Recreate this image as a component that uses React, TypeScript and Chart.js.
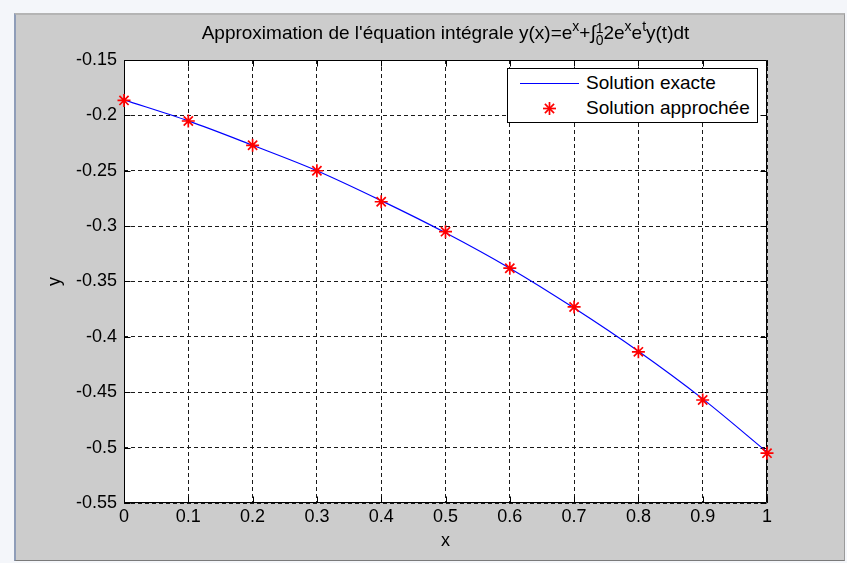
import React, { useEffect, useRef } from "react";
import { Chart, registerables } from "chart.js";

Chart.register(...registerables);

// ---- data ----
const xValues = [0, 0.1, 0.2, 0.3, 0.4, 0.5, 0.6, 0.7, 0.8, 0.9, 1];
const exactValues = [-0.186, -0.205, -0.227, -0.25, -0.277, -0.306, -0.338, -0.374, -0.413, -0.456, -0.504];
const approxValues = [-0.1865, -0.2051, -0.227, -0.25, -0.278, -0.305, -0.338, -0.373, -0.4135, -0.457, -0.505];

const xTickValues = [0, 0.1, 0.2, 0.3, 0.4, 0.5, 0.6, 0.7, 0.8, 0.9, 1];
const xTickLabels = ["0", "0.1", "0.2", "0.3", "0.4", "0.5", "0.6", "0.7", "0.8", "0.9", "1"];
const yTickValues = [-0.55, -0.5, -0.45, -0.4, -0.35, -0.3, -0.25, -0.2, -0.15];
const yTickLabels = ["-0.55", "-0.5", "-0.45", "-0.4", "-0.35", "-0.3", "-0.25", "-0.2", "-0.15"];

const seriesNames = ["Solution exacte", "Solution approchée"];
const axisTitles = { x: "x", y: "y" };

const FONT = "'Liberation Sans', Arial, Helvetica, sans-serif";

const matlabBox = {
  id: "matlabBox",
  beforeDraw(chart: any) {
    const { ctx, chartArea: a } = chart;
    ctx.save();
    ctx.fillStyle = "#ffffff";
    ctx.fillRect(a.left, a.top, a.right - a.left, a.bottom - a.top);
    ctx.restore();
  },
  beforeDatasetsDraw(chart: any) {
    const { ctx, chartArea: a, scales } = chart;
    const L = Math.round(a.left) + 0.5;
    const R = Math.round(a.right) - 0.5;
    const T = Math.round(a.top) + 0.5;
    const B = Math.round(a.bottom) - 0.5;
    const len = 6;
    ctx.save();
    ctx.strokeStyle = "#000000";
    ctx.lineWidth = 1;
    ctx.setLineDash([]);
    ctx.beginPath();
    ctx.rect(L, T, R - L, B - T);
    for (const t of scales.x.ticks) {
      const px = Math.round(scales.x.getPixelForValue(t.value)) + 0.5;
      ctx.moveTo(px, B);
      ctx.lineTo(px, B - len);
      ctx.moveTo(px, T);
      ctx.lineTo(px, T + len);
    }
    for (const t of scales.y.ticks) {
      const py = Math.round(scales.y.getPixelForValue(t.value)) + 0.5;
      ctx.moveTo(L, py);
      ctx.lineTo(L + len, py);
      ctx.moveTo(R, py);
      ctx.lineTo(R - len, py);
    }
    ctx.stroke();
    ctx.restore();
  },
};

export default function App() {
  const ref = useRef<HTMLCanvasElement>(null);

  useEffect(() => {
    if (!ref.current) return;
    const chart = new Chart(ref.current, {
      type: "line",
      data: {
        datasets: [
          {
            label: seriesNames[0],
            data: xValues.map((x, i) => ({ x, y: exactValues[i] })),
            borderColor: "#0000ff",
            backgroundColor: "#0000ff",
            borderWidth: 1.2,
            pointRadius: 0,
            cubicInterpolationMode: "monotone",
            fill: false,
            order: 2,
          },
          {
            label: seriesNames[1],
            data: xValues.map((x, i) => ({ x, y: approxValues[i] })),
            showLine: false,
            pointStyle: "star",
            pointRadius: 6.5,
            pointBorderWidth: 1.7,
            borderColor: "#ff0000",
            backgroundColor: "#ff0000",
            clip: false,
            order: 1,
          },
        ],
      },
      options: {
        animation: false,
        responsive: false,
        maintainAspectRatio: false,
        layout: { padding: { left: 0, top: 60, right: 80, bottom: 0 } },
        plugins: {
          legend: { display: false },
          tooltip: { enabled: false },
          title: { display: false },
        },
        scales: {
          x: {
            type: "linear",
            min: 0,
            max: 1,
            afterBuildTicks: (s: any) => {
              s.ticks = xTickValues.map((v) => ({ value: v }));
            },
            afterFit: (s: any) => {
              s.height = 60;
            },
            ticks: {
              autoSkip: false,
              maxRotation: 0,
              padding: 3,
              color: "#000",
              font: { family: FONT, size: 18 },
              callback: (_v: any, i: number) => xTickLabels[i],
            },
            grid: { color: "#1a1a1a", lineWidth: 1, drawTicks: false },
            border: { display: false, dash: [4, 3] },
            title: {
              display: true,
              text: axisTitles.x,
              color: "#000",
              font: { family: FONT, size: 18 },
              padding: { top: 0, bottom: 11 },
            },
          },
          y: {
            type: "linear",
            min: -0.55,
            max: -0.15,
            afterBuildTicks: (s: any) => {
              s.ticks = yTickValues.map((v) => ({ value: v }));
            },
            afterFit: (s: any) => {
              s.width = 124;
            },
            ticks: {
              autoSkip: false,
              padding: 7,
              color: "#000",
              font: { family: FONT, size: 18 },
              callback: (_v: any, i: number) => yTickLabels[i],
            },
            grid: { color: "#1a1a1a", lineWidth: 1, drawTicks: false },
            border: { display: false, dash: [4, 3] },
            title: {
              display: true,
              text: axisTitles.y,
              color: "#000",
              font: { family: FONT, size: 18 },
              padding: { top: 44, bottom: 0 },
            },
          },
        },
      },
      plugins: [matlabBox],
    } as any);
    return () => chart.destroy();
  }, []);

  const sup: React.CSSProperties = { fontSize: 14, position: "relative", top: -8 };

  return (
    <div
      style={{
        position: "absolute",
        left: 0,
        top: 0,
        width: 847,
        height: 563,
        background: "#f4f6fa",
        overflow: "hidden",
        fontFamily: FONT,
      }}
    >
      <div
        style={{
          position: "absolute",
          left: 14,
          top: 13,
          width: 831,
          height: 548,
          background: "#cccccc",
          borderLeft: "2px solid #8f9db8",
          borderTop: "2px solid #b4b4b4",
          borderBottom: "1px solid #7a7a7a",
          borderRight: "1px solid #9a9a9a",
          boxSizing: "border-box",
        }}
      />
      <canvas
        ref={ref}
        width={847}
        height={563}
        style={{ position: "absolute", left: 0, top: 0, width: 847, height: 563 }}
      />
      <div
        style={{
          position: "absolute",
          left: 124,
          top: 20,
          width: 643,
          textAlign: "center",
          fontSize: 19,
          lineHeight: "26px",
          color: "#000",
          whiteSpace: "nowrap",
        }}
      >
        Approximation de l'équation intégrale y(x)=e
        <span style={sup}>x</span>+∫
        <span
          style={{
            display: "inline-block",
            verticalAlign: "middle",
            lineHeight: "12px",
            fontSize: 14,
            textAlign: "left",
          }}
        >
          <span style={{ display: "block" }}>1</span>
          <span style={{ display: "block" }}>0</span>
        </span>
        2e<span style={sup}>x</span>e<span style={sup}>t</span>y(t)dt
      </div>
      <div
        style={{
          position: "absolute",
          left: 507,
          top: 68,
          width: 251,
          height: 55,
          background: "#ffffff",
          border: "1px solid #000",
          boxSizing: "border-box",
          fontSize: 19,
          color: "#000",
        }}
      >
        <div style={{ position: "absolute", left: 12, top: 14, width: 59, height: 0, borderTop: "1px solid #0000ff" }} />
        <div style={{ position: "absolute", left: 78, top: 3, lineHeight: "22px", whiteSpace: "nowrap" }}>{seriesNames[0]}</div>
        <svg style={{ position: "absolute", left: 34, top: 32 }} width={15} height={15} viewBox="0 0 15 15">
          <g stroke="#ff0000" strokeWidth={1.7}>
            <line x1={7.5} y1={1} x2={7.5} y2={14} />
            <line x1={1} y1={7.5} x2={14} y2={7.5} />
            <line x1={2.9} y1={2.9} x2={12.1} y2={12.1} />
            <line x1={12.1} y1={2.9} x2={2.9} y2={12.1} />
          </g>
        </svg>
        <div style={{ position: "absolute", left: 78, top: 28, lineHeight: "22px", whiteSpace: "nowrap" }}>{seriesNames[1]}</div>
      </div>
    </div>
  );
}
